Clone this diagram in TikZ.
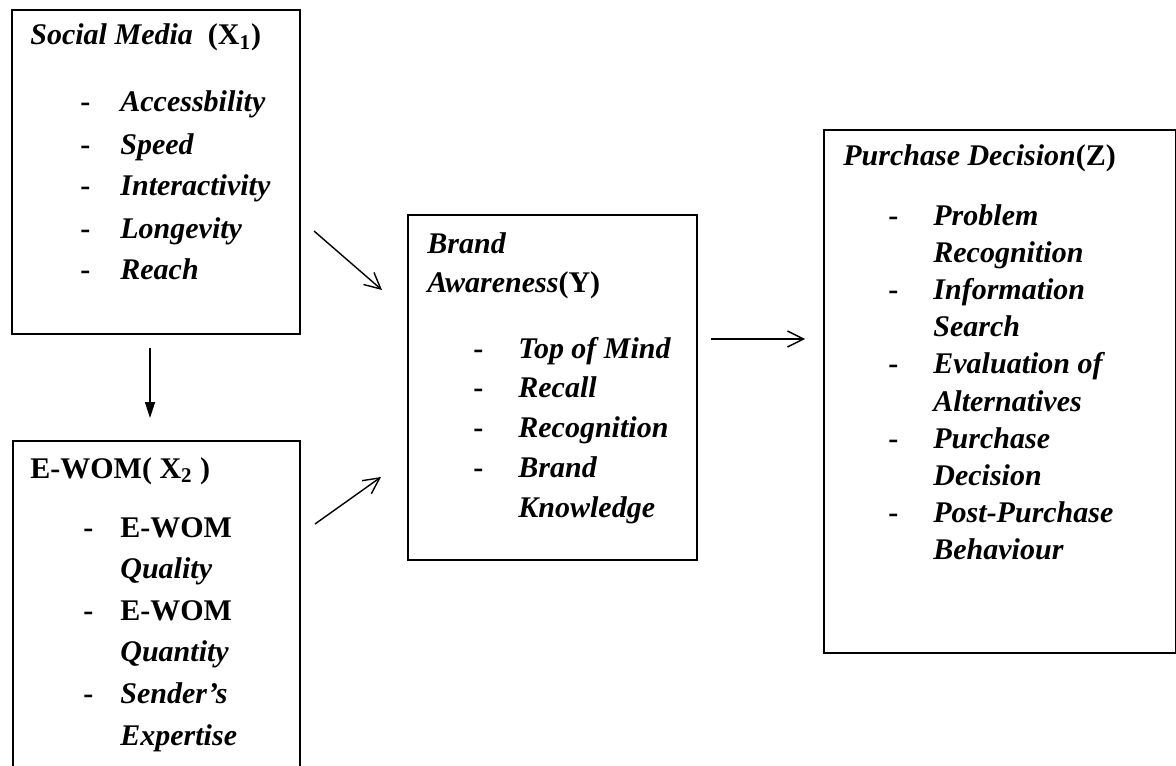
\documentclass[tikz,border=0pt]{standalone}
\usepackage{fontspec}
\setmainfont{Liberation Serif}
\usepackage{array}
\usetikzlibrary{arrows.meta}

% #1 row pitch, #2 dash column width, #3 rows
\newcommand{\dashlist}[3]{{\fontsize{15}{#1}\selectfont
  \begin{tabular}[t]{@{}>{\upshape}p{#2}@{}l@{}}#3\end{tabular}}}

\begin{document}
\begin{tikzpicture}[
  x=0.5pt, y=-0.5pt,
  every node/.style = {font=\fontsize{15}{19.5}\selectfont\bfseries\itshape},
  box/.style  = {draw, line width=1pt, rectangle, anchor=north west, inner sep=0pt},
  ttl/.style  = {anchor=base west, inner sep=0pt},
  arr/.style  = {-{Straight Barb[length=8pt,width=8pt]}, line width=0.7pt},
  darr/.style = {-{Triangle[length=8pt,width=5pt]}, line width=0.8pt},
]
\useasboundingbox (0,0) rectangle (1176,765);
\clip (0,0) rectangle (1176,765);

% Boxes
\node[box, minimum width=144pt, minimum height=162pt] (sm) at (11,9) {};
\node[box, minimum width=143.5pt, minimum height=200pt] (ewom) at (12,440) {};
\node[box, minimum width=144.5pt, minimum height=172.5pt] (ba) at (407,214) {};
\node[box, minimum width=176pt, minimum height=261.5pt] (pd) at (823,129) {};

% Social Media
\node[ttl] (smtitle) at (30,45) {Social Media\ \ \textup{(X\textsubscript{1})}};
\node[ttl] (smlist) at (80,112) {\dashlist{21pt}{20pt}{%
  -&Accessbility\\ -&Speed\\ -&Interactivity\\ -&Longevity\\ -&Reach}};

% E-WOM
\node[ttl] (ewomtitle) at (30,478) {\upshape E-WOM( X\textsubscript{2} )};
\node[ttl] (ewomlist) at (83,537) {\dashlist{20.8pt}{18.5pt}{%
  -&\textup{E-WOM}\\ &Quality\\ -&\textup{E-WOM}\\ &Quantity\\
  -&Sender's\\ &Expertise}};

% Brand Awareness
\node[ttl] (batitle) at (427,253) {\begin{tabular}[t]{@{}l@{}}
  Brand\\ Awareness\textup{(Y)}\end{tabular}};
\node[ttl] (balist) at (473,358) {\dashlist{19.9pt}{22.5pt}{%
  -&Top of Mind\\ -&Recall\\ -&Recognition\\ -&Brand\\ &Knowledge}};

% Purchase Decision
\node[ttl] (pdtitle) at (843,165) {Purchase Decision\textup{(Z)}};
\node[ttl] (pdlist) at (888,225) {\dashlist{18.6pt}{22.5pt}{%
  -&Problem\\ &Recognition\\ -&Information\\ &Search\\
  -&Evaluation of\\ &Alternatives\\ -&Purchase\\ &Decision\\
  -&Post-Purchase\\ &Behaviour}};

% Arrows
\coordinate (smout) at (150,348);
\coordinate (ewomin) at (150,418);
\coordinate (smto) at (314,231);
\coordinate (baup) at (382,290);
\coordinate (ewomto) at (315,524);
\coordinate (balow) at (381,477);
\coordinate (baout) at (711,339);
\coordinate (pdin) at (805,339);
\draw[darr] (smout) -- (ewomin);
\draw[arr] (smto) -- (baup);
\draw[arr] (ewomto) -- (balow);
\draw[arr] (baout) -- (pdin);

\end{tikzpicture}
\end{document}
